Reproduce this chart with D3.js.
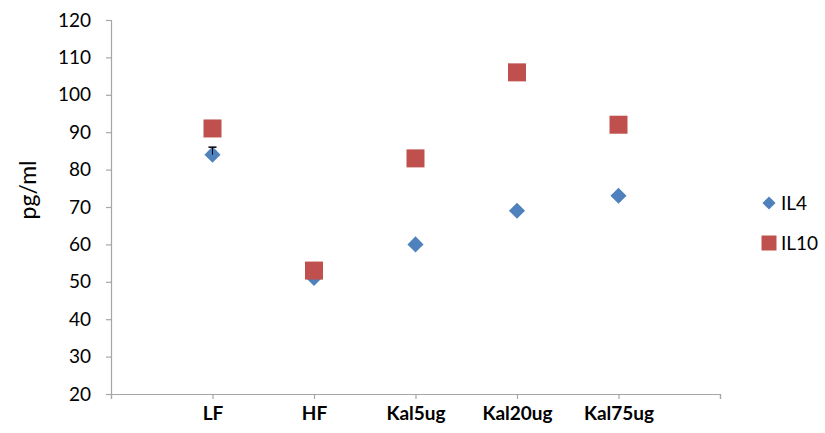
<!DOCTYPE html>
<html>
<head>
<meta charset="utf-8">
<script src="https://cdn.jsdelivr.net/npm/d3@7/dist/d3.min.js"></script>
<style>
  html, body { margin: 0; padding: 0; background: #fff; }
  svg { display: block; }
  text { font-family: Lato, "Open Sans", "Liberation Sans", sans-serif; fill: #000; }
</style>
</head>
<body>
<svg id="chart" width="825" height="433"></svg>
<script>
const categories = ["LF", "HF", "Kal5ug", "Kal20ug", "Kal75ug"];
const il4 = [84, 51, 60, 69, 73];
const il4Err = [2, 0, 0, 0, 0];
const il10 = [91, 53, 83, 106, 92];
const yTicks = [20, 30, 40, 50, 60, 70, 80, 90, 100, 110, 120];
const seriesNames = ["IL4", "IL10"];
const colors = { IL4: "#4F81BD", IL10: "#C0504D" };

const svg = d3.select("#chart");
const x = d3.scaleLinear().domain([0, 6]).range([111, 720]);
const y = d3.scaleLinear().domain([20, 120]).range([394, 20]);
const axisColor = "#a6a6a6";

// Y axis
const yAxis = svg.append("g").attr("transform", "translate(111,0)")
  .call(d3.axisLeft(y).tickValues(yTicks).tickSize(5).tickPadding(15));
yAxis.select(".domain").attr("stroke", axisColor).attr("stroke-width", 1.2);
yAxis.selectAll(".tick line").attr("stroke", axisColor).attr("stroke-width", 1.2);
yAxis.selectAll(".tick text").attr("font-size", 19).attr("font-family", "Lato, 'Open Sans', sans-serif").attr("fill", "#000");

// X axis
const xAxis = svg.append("g").attr("transform", "translate(0,394)")
  .call(d3.axisBottom(x).tickValues([0, 1, 2, 3, 4, 5, 6]).tickSize(5).tickPadding(8)
    .tickFormat(d => (d >= 1 && d <= 5) ? categories[d - 1] : ""));
xAxis.select(".domain").attr("stroke", axisColor).attr("stroke-width", 1.2);
xAxis.selectAll(".tick line").attr("stroke", axisColor).attr("stroke-width", 1.2);
xAxis.selectAll(".tick text").attr("font-size", 19).attr("font-weight", "bold")
  .attr("font-family", "Lato, 'Open Sans', sans-serif").attr("fill", "#000");

// Y label
svg.append("text")
  .attr("transform", "translate(36,190) rotate(-90)")
  .attr("text-anchor", "middle")
  .attr("font-size", 23)
  .text("pg/ml");

// Markers
const diamond = d3.symbol().type(d3.symbolDiamond2).size(165);
const square = d3.symbol().type(d3.symbolSquare).size(324);

svg.append("g").selectAll("path").data(il4).join("path")
  .attr("d", diamond)
  .attr("transform", (d, i) => `translate(${x(i + 1)},${y(d)})`)
  .attr("fill", colors.IL4);

// Error bars for IL4
const eb = svg.append("g");
il4.forEach((d, i) => {
  const e = il4Err[i];
  if (!e) return;
  const cx = x(i + 1);
  eb.append("line").attr("x1", cx).attr("x2", cx).attr("y1", y(d)).attr("y2", y(d + e))
    .attr("stroke", "#000").attr("stroke-width", 1);
  eb.append("line").attr("x1", cx - 4).attr("x2", cx + 4).attr("y1", y(d + e)).attr("y2", y(d + e))
    .attr("stroke", "#000").attr("stroke-width", 1.5);
});

svg.append("g").selectAll("path").data(il10).join("path")
  .attr("d", square)
  .attr("transform", (d, i) => `translate(${x(i + 1)},${y(d)})`)
  .attr("fill", colors.IL10);

// Legend
const legend = svg.append("g");
seriesNames.forEach((name, i) => {
  const ly = 203 + i * 40;
  legend.append("path")
    .attr("d", i === 0 ? d3.symbol().type(d3.symbolDiamond2).size(110)() : d3.symbol().type(d3.symbolSquare).size(225)())
    .attr("transform", `translate(769,${ly})`)
    .attr("fill", colors[name]);
  legend.append("text")
    .attr("x", 781).attr("y", ly + 7)
    .attr("font-size", 19)
    .text(name);
});
</script>
</body>
</html>
